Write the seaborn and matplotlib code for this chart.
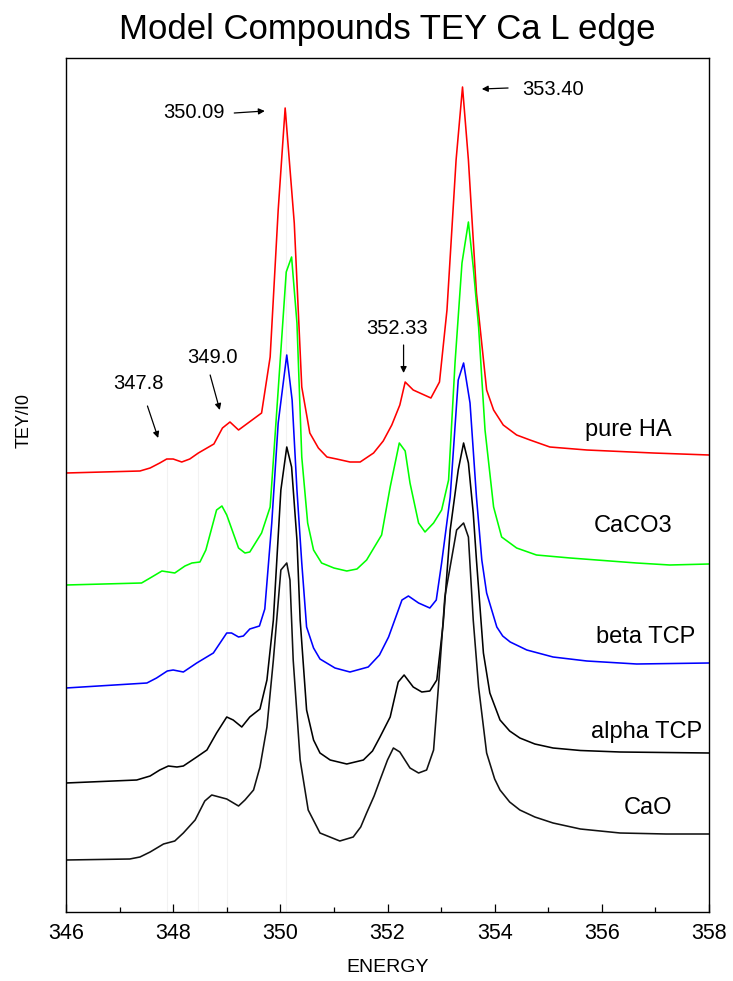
import matplotlib
matplotlib.use("Agg")
import matplotlib.pyplot as plt
import seaborn as sns
import pandas as pd

# ---------------- data ----------------
names = ["pure HA", "CaCO3", "beta TCP", "alpha TCP", "CaO"]

ha_e = [346.00, 347.38, 347.57, 347.75, 347.88, 348.00, 348.16, 348.31, 348.47, 348.76,
        348.92, 349.06, 349.22, 349.65, 349.81, 349.96, 350.09, 350.26, 350.40, 350.55,
        350.71, 350.87, 351.05, 351.30, 351.49, 351.74, 351.92, 352.08, 352.23, 352.33,
        352.48, 352.81, 352.97, 353.11, 353.28, 353.40, 353.51, 353.66, 353.85, 353.98,
        354.16, 354.41, 354.66, 355.03, 355.72, 356.96, 358.00]
ha_i = [43.9, 44.1, 44.4, 44.9, 45.3, 45.3, 45.0, 45.3, 45.9, 46.8,
        48.4, 49.0, 48.2, 49.9, 55.5, 70.2, 80.4, 68.9, 52.5, 47.9,
        46.4, 45.5, 45.3, 45.0, 45.0, 45.9, 47.1, 48.7, 50.7, 53.0,
        52.2, 51.4, 53.0, 60.2, 75.2, 82.5, 75.2, 61.9, 52.2, 50.2,
        48.7, 47.7, 47.2, 46.5, 46.2, 45.9, 45.7]

co3_e = [346.00, 347.41, 347.57, 347.79, 348.03, 348.22, 348.35, 348.50, 348.61, 348.81,
         348.91, 349.00, 349.22, 349.34, 349.43, 349.65, 349.81, 349.96, 350.11, 350.21,
         350.31, 350.40, 350.51, 350.62, 350.77, 351.00, 351.24, 351.43, 351.61, 351.89,
         352.05, 352.22, 352.33, 352.42, 352.58, 352.70, 352.86, 353.01, 353.14, 353.26,
         353.39, 353.51, 353.60, 353.70, 353.82, 353.98, 354.13, 354.41, 354.78, 355.41,
         356.65, 357.27, 358.00]
co3_i = [32.7, 32.9, 33.4, 34.1, 33.9, 34.6, 34.9, 35.0, 36.2, 40.2,
         40.6, 39.7, 36.4, 35.9, 36.0, 37.9, 40.5, 52.2, 64.0, 65.5,
         58.9, 45.5, 38.9, 36.2, 34.9, 34.4, 34.1, 34.3, 35.2, 37.7,
         42.5, 46.9, 46.1, 42.9, 38.9, 38.0, 38.9, 40.2, 43.2, 54.9,
         64.9, 69.0, 64.5, 58.5, 48.2, 40.5, 37.5, 36.4, 35.7, 35.4,
         34.9, 34.7, 34.8]

btcp_e = [346.00, 347.51, 347.69, 347.89, 348.00, 348.19, 348.44, 348.75, 349.00, 349.09,
          349.22, 349.31, 349.43, 349.61, 349.71, 349.84, 349.96, 350.12, 350.22, 350.31,
          350.40, 350.49, 350.62, 350.74, 351.02, 351.30, 351.64, 351.85, 352.02, 352.27,
          352.39, 352.58, 352.79, 352.91, 353.01, 353.17, 353.32, 353.42, 353.54, 353.66,
          353.76, 353.85, 354.04, 354.15, 354.29, 354.60, 355.09, 355.72, 356.65, 358.00]
btcp_i = [22.4, 22.9, 23.4, 24.1, 24.2, 24.0, 24.9, 25.9, 27.9, 27.9,
          27.5, 27.6, 28.3, 28.6, 30.3, 38.9, 48.9, 55.7, 51.2, 42.2,
          34.9, 28.5, 26.4, 25.3, 24.4, 24.0, 24.5, 25.7, 27.5, 31.2,
          31.6, 30.9, 30.4, 31.2, 34.9, 41.5, 53.2, 54.9, 50.9, 41.5,
          35.2, 31.9, 28.5, 27.6, 27.0, 26.2, 25.5, 25.1, 24.8, 24.9]

atcp_e = [346.00, 347.32, 347.57, 347.75, 347.91, 348.07, 348.19, 348.44, 348.63, 348.81,
          349.00, 349.12, 349.28, 349.43, 349.62, 349.75, 349.87, 350.01, 350.12, 350.21,
          350.31, 350.37, 350.49, 350.62, 350.74, 350.93, 351.24, 351.55, 351.72, 351.86,
          352.05, 352.20, 352.31, 352.48, 352.64, 352.79, 352.92, 353.04, 353.17, 353.32,
          353.42, 353.51, 353.60, 353.66, 353.79, 353.91, 354.10, 354.28, 354.47, 354.75,
          355.09, 355.60, 356.34, 358.00]
atcp_i = [12.9, 13.2, 13.6, 14.2, 14.6, 14.5, 14.6, 15.5, 16.2, 17.9,
          19.5, 19.2, 18.5, 19.5, 20.3, 23.2, 29.2, 42.2, 46.5, 44.5,
          37.2, 29.2, 20.2, 17.2, 15.9, 15.2, 14.8, 15.2, 16.1, 17.5,
          19.5, 23.0, 23.7, 22.5, 22.0, 22.1, 23.2, 28.9, 38.2, 44.2,
          46.9, 44.9, 39.9, 35.2, 25.9, 21.9, 19.2, 18.1, 17.4, 16.8,
          16.4, 16.15, 16.0, 15.9]

cao_e = [346.00, 347.19, 347.38, 347.57, 347.82, 348.03, 348.19, 348.41, 348.59, 348.72,
         349.00, 349.22, 349.34, 349.50, 349.62, 349.75, 349.87, 350.01, 350.12, 350.18,
         350.24, 350.37, 350.52, 350.74, 351.11, 351.36, 351.50, 351.61, 351.75, 351.86,
         352.00, 352.11, 352.23, 352.42, 352.58, 352.73, 352.86, 352.95, 353.07, 353.29,
         353.42, 353.51, 353.60, 353.70, 353.85, 354.00, 354.10, 354.28, 354.47, 354.75,
         355.09, 355.60, 356.34, 357.20, 358.00]
cao_i = [5.2, 5.3, 5.5, 6.0, 6.8, 7.1, 7.9, 9.2, 11.1, 11.7,
         11.3, 10.6, 11.2, 12.2, 14.5, 18.5, 25.2, 34.2, 34.9, 33.2,
         25.2, 15.2, 10.2, 7.9, 7.1, 7.5, 8.5, 9.9, 11.6, 13.2,
         15.2, 16.4, 16.0, 14.4, 13.9, 14.2, 16.2, 22.5, 31.5, 38.2,
         38.9, 37.5, 29.2, 22.5, 15.9, 13.3, 12.2, 11.0, 10.2, 9.5,
         8.9, 8.3, 7.9, 7.8, 7.8]

colors = ["#ff0000", "#00ff00", "#0000ff", "#000000", "#111111"]

# annotations: label text and the energy they mark
ann_labels = ["347.8", "349.0", "350.09", "352.33", "353.40"]
ref_lines = [347.88, 348.47, 349.00, 350.10]
ref_tops = [45.3, 45.9, 48.7, 80.0]

xticks_major = [346, 348, 350, 352, 354, 356, 358]

# ---------------- build table ----------------
series = [(ha_e, ha_i), (co3_e, co3_i), (btcp_e, btcp_i), (atcp_e, atcp_i), (cao_e, cao_i)]
rows = []
for name, (e, i) in zip(names, series):
    for k, (ee, ii) in enumerate(zip(e, i)):
        rows.append({"energy": ee, "tey": ii, "sample": name, "order": k})
df = pd.DataFrame(rows)

# ---------------- plot ----------------
sns.set_theme(style="white")
plt.rcParams["font.family"] = ["Liberation Sans", "DejaVu Sans"]

W, H = 733, 981
fig = plt.figure(figsize=(W / 100, H / 100), dpi=100)
ax = fig.add_axes([66 / W, (H - 912) / H, (709 - 66) / W, (912 - 58) / H])

for x0, top in zip(ref_lines, ref_tops):
    ax.vlines(x0, 0, top, color="#f2f2f2", lw=0.8, zorder=0)

sns.lineplot(data=df, x="energy", y="tey", hue="sample", hue_order=names,
             palette=dict(zip(names, colors)), estimator=None, sort=False,
             units="sample", lw=1.15, legend=False, ax=ax)

ax.set_xlim(346, 358)
ax.set_ylim(0, 85.4)
ax.set_xticks(xticks_major)
ax.set_xticks(range(346, 359), minor=True)
ax.set_yticks([])
ax.tick_params(axis="x", which="both", direction="in", bottom=True, top=False,
               colors="black", labelsize=15.5, pad=8)
ax.tick_params(axis="x", which="major", length=6, width=0.9)
ax.tick_params(axis="x", which="minor", length=3.5, width=0.9)
for s in ax.spines.values():
    s.set_color("black")
    s.set_linewidth(1.0)
ax.set_xlabel("")
ax.set_ylabel("")

# curve labels
label_pos = [(356.50, 48.2), (356.58, 38.6), (356.82, 27.5), (356.83, 18.0), (356.87, 10.4)]
for name, (lx, ly) in zip(names, label_pos):
    ax.text(lx, ly, name, fontsize=17, ha="center", va="center", color="black")

# annotation texts and arrows
ann_text = [(347.35, 52.9), (348.73, 55.5), (348.39, 80.0), (352.17, 58.4), (355.09, 82.3)]
ann_tail = [(347.52, 50.6), (348.69, 53.7), (349.14, 79.9), (352.30, 56.7), (354.25, 82.4)]
ann_head = [(347.72, 47.4), (348.87, 50.2), (349.71, 80.1), (352.30, 53.9), (353.76, 82.3)]
for lab, tp, tl, hd in zip(ann_labels, ann_text, ann_tail, ann_head):
    ax.text(tp[0], tp[1], lab, fontsize=14.5, ha="center", va="center", color="black")
    ax.annotate("", xy=hd, xytext=tl,
                arrowprops=dict(arrowstyle="-|>", color="black", lw=0.9,
                                mutation_scale=9, shrinkA=0, shrinkB=0))

fig.text(387.5 / W, 1 - 30 / H, "Model Compounds TEY Ca L edge", fontsize=25,
         ha="center", va="center", color="black")
fig.text(388 / W, 1 - 968 / H, "ENERGY", fontsize=14, ha="center", va="center", color="black")
fig.text(24.5 / W, 1 - 420 / H, "TEY/I0", fontsize=13, ha="center", va="center",
         rotation=90, color="black")

fig.savefig("out.png", dpi=100)
